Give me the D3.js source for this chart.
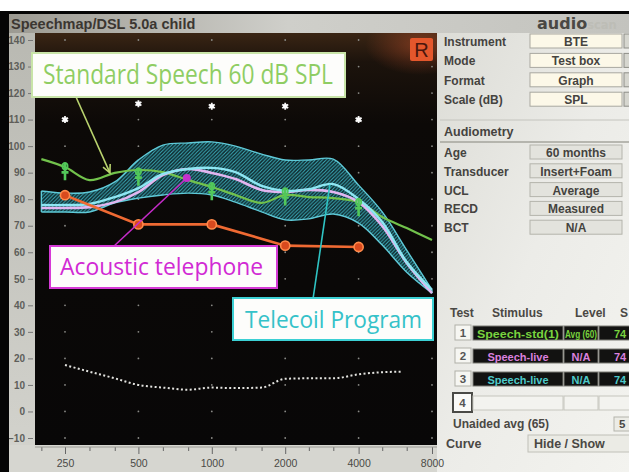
<!DOCTYPE html>
<html>
<head>
<meta charset="utf-8">
<script src="https://cdn.jsdelivr.net/npm/d3@7"></script>
<style>
  body { margin: 0; background: #fff; }
  svg { display: block; }
</style>
</head>
<body>
<svg id="chart" width="629" height="472"></svg>
<script>
// ---- Speechmap data (dB SPL) ----
const freqs = [200, 250, 315, 400, 500, 630, 800, 1000, 1250, 1600, 2000, 2500, 3150, 4000, 5000, 6300, 8000];
// Telecoil speech envelope (hatched band) and its long-term average
const telecoilUpper = [83.1, 82.3, 82.7, 86.5, 94.8, 100.4, 101.2, 101.6, 100, 97, 94.8, 94.8, 95.1, 85.3, 75.2, 60.8, 45.8];
const telecoilLower = [75.2, 75.2, 75.2, 78.6, 80.4, 81.6, 82.3, 81.6, 78.9, 75.2, 72.2, 72.6, 74.4, 71, 62.7, 52.5, 44.6];
const telecoilAvg   = [77.8, 77.8, 78.2, 80.8, 84.2, 89.5, 91.4, 91.8, 90.2, 85, 83.1, 83.8, 85.7, 80, 71.4, 56.3, 45.8];
// Acoustic telephone long-term average
const acousticAvg   = [76.7, 76.7, 77, 78.9, 82.7, 89.1, 91.4, 89.9, 87.6, 83.5, 82.7, 83.5, 82.7, 78.9, 69.9, 56, 44.6];
// Standard speech 60 dB SPL long-term average
const standardAvg   = [95.1, 92.1, 87.2, 89.9, 91, 90.2, 87.2, 84.6, 81.6, 78.6, 81.6, 80.8, 80.4, 78.9, 73.3, 69.1, 64.6];

// Audiometric frequencies
const audioFreqs = [250, 500, 1000, 2000, 4000];
const thresholds = [81.5, 70.5, 70.5, 62.5, 62];
const uclLevels  = [110, 116, 115, 115, 110];
const dslTargets = [90.5, 88.5, 83, 81, 77];

// Test box noise floor
const noiseFreqs = [250, 315, 400, 500, 630, 800, 1000, 1250, 1600, 2000, 2500, 3150, 4000, 5000, 6000];
const noiseFloor = [17.5, 15, 12.5, 10, 9, 8.2, 9, 8.8, 9, 12.3, 12.5, 12.5, 14, 14.8, 15];

// Axis ticks
const yTicks = [-10, 0, 10, 20, 30, 40, 50, 60, 70, 80, 90, 100, 110, 120, 130, 140];
const octaveTicks = [250, 500, 1000, 2000, 4000, 8000];
const thirdOctaveTicks = [200, 250, 315, 400, 500, 630, 800, 1000, 1250, 1600, 2000, 2500, 3150, 4000, 5000, 6300, 8000];

// Side panel contents
const setupRows = [["Instrument", "BTE"], ["Mode", "Test box"], ["Format", "Graph"], ["Scale (dB)", "SPL"]];
const audiometryRows = [["Age", "60 months"], ["Transducer", "Insert+Foam"], ["UCL", "Average"], ["RECD", "Measured"], ["BCT", "N/A"]];
const testNumbers = ["1", "2", "3"];
const testStimuli = ["Speech-std(1)", "Speech-live", "Speech-live"];
const testLevels  = ["Avg (60)", "N/A", "N/A"];
const testSII     = ["74", "74", "74"];

// ---- drawing ----
const svg = d3.select("#chart");
const W = 629, H = 472;
const plot = { x0: 35, x1: 437, y0: 33, y1: 445 };

const x = d3.scaleLog().domain([250, 8000]).range([65, 432]);
const y = d3.scaleLinear().domain([-10, 140]).range([438, 40]);

const defs = svg.append("defs");

const titleGrad = defs.append("linearGradient").attr("id", "titleGrad");
titleGrad.append("stop").attr("offset", "0%").attr("stop-color", "#9c9a92");
titleGrad.append("stop").attr("offset", "45%").attr("stop-color", "#cfcfca");
titleGrad.append("stop").attr("offset", "100%").attr("stop-color", "#c3c3be");

const plotGrad = defs.append("linearGradient").attr("id", "plotGrad").attr("x1", 0).attr("x2", 0).attr("y1", 0).attr("y2", 1);
plotGrad.append("stop").attr("offset", "0%").attr("stop-color", "#3a2514");
plotGrad.append("stop").attr("offset", "7%").attr("stop-color", "#1c130c");
plotGrad.append("stop").attr("offset", "22%").attr("stop-color", "#0c0907");
plotGrad.append("stop").attr("offset", "100%").attr("stop-color", "#080707");

const glow = defs.append("radialGradient").attr("id", "glow");
glow.append("stop").attr("offset", "0%").attr("stop-color", "#c0502a").attr("stop-opacity", 0.5);
glow.append("stop").attr("offset", "100%").attr("stop-color", "#c0502a").attr("stop-opacity", 0);

const panelGrad = defs.append("linearGradient").attr("id", "panelGrad").attr("x1", 0).attr("x2", 1).attr("y1", 0).attr("y2", 1);
panelGrad.append("stop").attr("offset", "0%").attr("stop-color", "#dcdcd6");
panelGrad.append("stop").attr("offset", "50%").attr("stop-color", "#ececE8");
panelGrad.append("stop").attr("offset", "100%").attr("stop-color", "#f3f3ef");

const axisGrad = defs.append("linearGradient").attr("id", "axisGrad").attr("x1", 0).attr("x2", 0).attr("y1", 0).attr("y2", 1);
axisGrad.append("stop").attr("offset", "0%").attr("stop-color", "#b9b9b2");
axisGrad.append("stop").attr("offset", "100%").attr("stop-color", "#d2d2cc");

const hatch = defs.append("pattern").attr("id", "hatch")
  .attr("patternUnits", "userSpaceOnUse").attr("width", 3.6).attr("height", 3.6);
hatch.append("rect").attr("width", 3.6).attr("height", 3.6).attr("fill", "#0e262a");
hatch.append("path").attr("d", "M-1,1 L1,-1 M0,3.6 L3.6,0 M2.6,4.6 L4.6,2.6")
  .attr("stroke", "#3aa9b6").attr("stroke-width", 1.1);

defs.append("clipPath").attr("id", "plotClip").append("rect")
  .attr("x", plot.x0).attr("y", plot.y0).attr("width", plot.x1 - plot.x0).attr("height", plot.y1 - plot.y0);

// Screen frame
svg.append("rect").attr("width", W).attr("height", H).attr("fill", "#fff");
svg.append("rect").attr("x", 0).attr("y", 11).attr("width", W).attr("height", H - 11).attr("fill", "#050505");
svg.append("rect").attr("x", 9).attr("y", 14).attr("width", W - 9).attr("height", 19).attr("fill", "url(#titleGrad)");
svg.append("rect").attr("x", 9).attr("y", plot.y0).attr("width", plot.x0 - 9).attr("height", plot.y1 - plot.y0).attr("fill", "url(#axisGrad)");
svg.append("rect").attr("x", 9).attr("y", plot.y1).attr("width", plot.x1 - 9).attr("height", H - plot.y1).attr("fill", "#d6d6d0");
svg.append("rect").attr("x", plot.x1).attr("y", plot.y0).attr("width", W - plot.x1).attr("height", H - plot.y0).attr("fill", "url(#panelGrad)");

// Title bar
svg.append("text").attr("x", 11).attr("y", 29)
  .attr("font-family", "Liberation Sans, Arial, sans-serif").attr("font-weight", "bold").attr("font-size", 14.5)
  .attr("fill", "#3b3631").text("Speechmap/DSL 5.0a child");
const logo = svg.append("text").attr("x", 537).attr("y", 29)
  .attr("font-family", "DejaVu Sans, sans-serif").attr("font-weight", "bold").attr("font-size", 16);
logo.append("tspan").attr("fill", "#4a4844").text("audio");
logo.append("tspan").attr("fill", "#bdbdb6").attr("font-size", 11.5).text("scan");

// Plot background
const plotLayer = svg.append("g").attr("clip-path", "url(#plotClip)");
plotLayer.append("rect").attr("x", plot.x0).attr("y", plot.y0).attr("width", plot.x1 - plot.x0).attr("height", plot.y1 - plot.y0).attr("fill", "url(#plotGrad)");
plotLayer.append("ellipse").attr("cx", 420).attr("cy", 45).attr("rx", 55).attr("ry", 30).attr("fill", "url(#glow)");

const g = svg.append("g");

// Dot grid at octave frequencies
const gridPts = d3.cross(octaveTicks, yTicks);
g.append("g").selectAll("circle").data(gridPts).join("circle")
  .attr("cx", d => x(d[0])).attr("cy", d => y(d[1])).attr("r", 0.9).attr("fill", "#8a8a86");

// Y axis
const yAxis = d3.axisLeft(y).tickValues(yTicks).tickSize(5).tickPadding(3).tickFormat(d3.format("d"));
const ya = svg.append("g").attr("transform", `translate(${plot.x0 - 2},0)`).call(yAxis);
ya.select(".domain").remove();
ya.selectAll("line").attr("stroke", "#777");
ya.selectAll("text").attr("font-family", "Liberation Sans, Arial, sans-serif").attr("font-size", 10).attr("font-weight", "bold").attr("fill", "#5e5e5a");

// X axis
const xAxis = d3.axisBottom(x).tickValues(thirdOctaveTicks).tickSize(4).tickPadding(9)
  .tickFormat(d => octaveTicks.includes(d) ? d : "");
const xa = svg.append("g").attr("transform", `translate(0,${plot.y1 + 2})`).call(xAxis);
xa.select(".domain").remove();
xa.append("line").attr("x1", plot.x0).attr("x2", plot.x1).attr("stroke", "#9a9a94");
xa.selectAll(".tick line").attr("stroke", "#666").attr("y2", d => octaveTicks.includes(d) ? 7 : 4);
xa.selectAll("text").attr("font-family", "Liberation Sans, Arial, sans-serif").attr("font-size", 10.5).attr("fill", "#4a4a46");

// Photo edge
svg.append("rect").attr("x", 0).attr("y", 11).attr("width", 9).attr("height", H - 11).attr("fill", "#050505");

// Noise floor (dotted)
const lineGen = d3.line().x(d => x(d[0])).y(d => y(d[1])).curve(d3.curveMonotoneX);
g.append("path").attr("d", lineGen(d3.zip(noiseFreqs, noiseFloor)))
  .attr("fill", "none").attr("stroke", "#e4e4e0").attr("stroke-width", 2).attr("stroke-dasharray", "2 2.4");

// Telecoil envelope band
const area = d3.area().x((d, i) => x(freqs[i])).y0((d, i) => y(telecoilLower[i])).y1(d => y(d)).curve(d3.curveCatmullRom.alpha(0.5));
g.append("path").attr("d", area(telecoilUpper)).attr("fill", "url(#hatch)");
const edge = d3.line().x((d, i) => x(freqs[i])).y(d => y(d)).curve(d3.curveCatmullRom.alpha(0.5));
[telecoilUpper, telecoilLower].forEach(arr => {
  g.append("path").attr("d", edge(arr)).attr("fill", "none").attr("stroke", "#5fcad8").attr("stroke-width", 1.4);
});
[0, freqs.length - 1].forEach(i => {
  g.append("line").attr("x1", x(freqs[i])).attr("x2", x(freqs[i]))
    .attr("y1", y(telecoilUpper[i])).attr("y2", y(telecoilLower[i]))
    .attr("stroke", "#5fcad8").attr("stroke-width", 1.4);
});

// Standard speech curve
g.append("path").attr("d", edge(standardAvg)).attr("fill", "none").attr("stroke", "#72c24c").attr("stroke-width", 2.2);

// Acoustic telephone and telecoil averages
g.append("path").attr("d", edge(acousticAvg)).attr("fill", "none").attr("stroke", "#e2b6f0").attr("stroke-width", 2.6);
g.append("path").attr("d", edge(telecoilAvg)).attr("fill", "none").attr("stroke", "#8ee6f2").attr("stroke-width", 2.4);

// DSL targets
const tg = g.append("g").selectAll("g").data(d3.zip(audioFreqs, dslTargets)).join("g")
  .attr("transform", d => `translate(${x(d[0])},${y(d[1])})`);
tg.append("path").attr("d", "M0,-9 V9 M-3.5,1 H3.5").attr("stroke", "#52c85a").attr("stroke-width", 2.6).attr("fill", "none");
tg.append("ellipse").attr("cy", -5).attr("rx", 2.6).attr("ry", 3.2).attr("fill", "none").attr("stroke", "#52c85a").attr("stroke-width", 1.8);

// Thresholds
const thr = d3.zip(audioFreqs, thresholds);
g.append("path").attr("d", d3.line().x(d => x(d[0])).y(d => y(d[1]))(thr))
  .attr("fill", "none").attr("stroke", "#ef6a33").attr("stroke-width", 2.6);
g.append("g").selectAll("circle").data(thr).join("circle")
  .attr("cx", d => x(d[0])).attr("cy", d => y(d[1])).attr("r", 4.6)
  .attr("fill", "#d94a1e").attr("stroke", "#ff8a4a").attr("stroke-width", 1.6);

// UCL markers
g.append("g").selectAll("path").data(d3.zip(audioFreqs, uclLevels)).join("path")
  .attr("transform", d => `translate(${x(d[0])},${y(d[1])})`)
  .attr("d", d3.symbol(d3.symbolAsterisk, 34))
  .attr("stroke", "#f4f4f4").attr("stroke-width", 1.8).attr("fill", "none");
g.append("g").selectAll("rect").data(d3.zip(audioFreqs, uclLevels)).join("rect")
  .attr("x", d => x(d[0]) - 2).attr("y", d => y(d[1]) - 2).attr("width", 4).attr("height", 4).attr("fill", "#fff");

// Ear indicator
svg.append("rect").attr("x", 410).attr("y", 38).attr("width", 23).attr("height", 23).attr("rx", 2).attr("fill", "#e4572c");
svg.append("text").attr("x", 421.5).attr("y", 57).attr("text-anchor", "middle")
  .attr("font-family", "Liberation Sans, Arial, sans-serif").attr("font-size", 20).attr("fill", "#4a160c").text("R");

// ---- annotations ----
const ann = svg.append("g");
function pointer(from, toFreq, toDb, color) {
  const tx = x(toFreq), ty = y(toDb);
  ann.append("line").attr("x1", from[0]).attr("y1", from[1]).attr("x2", tx).attr("y2", ty)
    .attr("stroke", color).attr("stroke-width", 1.6);
  return [tx, ty];
}
// Standard speech pointer with open arrowhead
const sEnd = pointer([76, 97], 382, 89.9, "#b9d36e");
{
  const ang = Math.atan2(sEnd[1] - 97, sEnd[0] - 76);
  const L = 9;
  const a1 = ang + Math.PI - 0.45, a2 = ang + Math.PI + 0.45;
  ann.append("path")
    .attr("d", `M${sEnd[0] + L * Math.cos(a1)},${sEnd[1] + L * Math.sin(a1)} L${sEnd[0]},${sEnd[1]} L${sEnd[0] + L * Math.cos(a2)},${sEnd[1] + L * Math.sin(a2)}`)
    .attr("fill", "none").attr("stroke", "#b9d36e").attr("stroke-width", 1.6);
}
const aEnd = pointer([113, 247], 790, 88, "#c42bc8");
ann.append("circle").attr("cx", aEnd[0]).attr("cy", aEnd[1]).attr("r", 4).attr("fill", "#c530cc");
pointer([313, 299], 3050, 85.5, "#2fc4c4");

function noteBox(bx, by, bw, bh, stroke, txt, tx, ty, size, tlen, color) {
  ann.append("rect").attr("x", bx).attr("y", by).attr("width", bw).attr("height", bh)
    .attr("fill", "#fdfdfb").attr("stroke", stroke).attr("stroke-width", 2);
  ann.append("text").attr("x", tx).attr("y", ty)
    .attr("font-family", "Open Sans, Lato, sans-serif").attr("font-size", size)
    .attr("fill", color).attr("textLength", tlen).attr("lengthAdjust", "spacingAndGlyphs").text(txt);
}
noteBox(32, 53, 313, 44, "#c8e4a8", "Standard Speech 60 dB SPL", 43, 84, 27, 290, "#8fcd63");
noteBox(50, 246, 227, 42, "#d63ad6", "Acoustic telephone", 60, 275, 24, 203, "#d12ad4");
noteBox(233, 298, 200, 42, "#3cd0d4", "Telecoil Program", 245, 328, 24, 177, "#35c2c9");

// ---- side panel ----
const panel = svg.append("g").attr("font-family", "Liberation Sans, Arial, sans-serif");
const labFont = 12;
setupRows.forEach((r, i) => {
  const by = 46 + i * 19.4;
  panel.append("text").attr("x", 444).attr("y", by).attr("font-size", labFont).attr("font-weight", "bold").attr("fill", "#45433f").text(r[0]);
  panel.append("rect").attr("x", 530).attr("y", by - 12).attr("width", 92).attr("height", 14)
    .attr("fill", "#fcf8e8").attr("stroke", "#a9a8a0");
  panel.append("text").attr("x", 576).attr("y", by).attr("text-anchor", "middle").attr("font-size", labFont).attr("font-weight", "bold").attr("fill", "#45433f").text(r[1]);
  panel.append("rect").attr("x", 624).attr("y", by - 12).attr("width", 10).attr("height", 14)
    .attr("fill", "#d6d6cf").attr("stroke", "#8e8e88");
});
panel.append("line").attr("x1", 440).attr("x2", W).attr("y1", 120).attr("y2", 120).attr("stroke", "#c4c4be");
panel.append("text").attr("x", 444).attr("y", 136).attr("font-size", 12.5).attr("font-weight", "bold").attr("fill", "#45433f").text("Audiometry");
panel.append("line").attr("x1", 440).attr("x2", W).attr("y1", 142).attr("y2", 142).attr("stroke", "#a4a49c").attr("stroke-width", 1.5);
audiometryRows.forEach((r, i) => {
  const by = 157 + i * 18.8;
  panel.append("text").attr("x", 444).attr("y", by).attr("font-size", labFont).attr("font-weight", "bold").attr("fill", "#45433f").text(r[0]);
  panel.append("rect").attr("x", 530).attr("y", by - 12).attr("width", 92).attr("height", 14)
    .attr("fill", "#e3e3dd").attr("stroke", "#b4b4ac");
  panel.append("text").attr("x", 576).attr("y", by).attr("text-anchor", "middle").attr("font-size", labFont).attr("font-weight", "bold").attr("fill", "#45433f").text(r[1]);
});

// Test table
const hdr = [["Test", 450], ["Stimulus", 492], ["Level", 575], ["S", 620]];
hdr.forEach(h => panel.append("text").attr("x", h[1]).attr("y", 317).attr("font-size", 12).attr("font-weight", "bold").attr("fill", "#4a4844").text(h[0]));
const rowColors = ["#79d33f", "#da80de", "#4dc9c9"];
const rowY = [325, 348, 371];
testNumbers.forEach((n, i) => {
  const ry = rowY[i];
  panel.append("rect").attr("x", 455).attr("y", ry).attr("width", 16).attr("height", 15).attr("fill", "#f6f6f2").attr("stroke", "#b0b0a8");
  panel.append("text").attr("x", 463).attr("y", ry + 12).attr("text-anchor", "middle").attr("font-size", 11.5).attr("font-weight", "bold").attr("fill", "#555").text(n);
  const cells = [[473, 90, testStimuli[i]], [564, 34, testLevels[i]], [599, 32, testSII[i]]];
  cells.forEach((c, j) => {
    panel.append("rect").attr("x", c[0]).attr("y", ry + 1).attr("width", c[1]).attr("height", 14).attr("fill", "#121211").attr("stroke", "#7a7a74");
    const t = panel.append("text").attr("y", ry + 12.5).attr("font-weight", "bold")
      .attr("font-size", 11)
      .attr("fill", rowColors[i]).text(c[2]);
    if (j === 2) {
      t.attr("x", 614);
    } else {
      t.attr("x", c[0] + c[1] / 2).attr("text-anchor", "middle");
      if (c[2] === "Speech-std(1)") t.attr("textLength", 82).attr("lengthAdjust", "spacingAndGlyphs");
      if (c[2] === "Avg (60)") t.attr("textLength", 32).attr("lengthAdjust", "spacingAndGlyphs");
    }
  });
});
panel.append("rect").attr("x", 453).attr("y", 393).attr("width", 19).attr("height", 19).attr("fill", "#fafaf8").attr("stroke", "#4a4a46").attr("stroke-width", 2);
panel.append("text").attr("x", 462.5).attr("y", 407).attr("text-anchor", "middle").attr("font-size", 11.5).attr("font-weight", "bold").attr("fill", "#555").text("4");
[[473, 90], [564, 34], [599, 32]].forEach(c => {
  panel.append("rect").attr("x", c[0]).attr("y", 396).attr("width", c[1]).attr("height", 14).attr("fill", "#f3f3ef").attr("stroke", "#c6c6be");
});
panel.append("text").attr("x", 453).attr("y", 428).attr("font-size", 12).attr("font-weight", "bold").attr("fill", "#4a4844").text("Unaided avg (65)");
panel.append("rect").attr("x", 614).attr("y", 417).attr("width", 20).attr("height", 14).attr("fill", "#ececE6").attr("stroke", "#b4b4ac");
panel.append("text").attr("x", 619).attr("y", 428).attr("font-size", 11.5).attr("font-weight", "bold").attr("fill", "#4a4844").text("5");
panel.append("rect").attr("x", 528).attr("y", 435).attr("width", 110).attr("height", 17).attr("fill", "#ebebe5").attr("stroke", "#c0c0b8");
panel.append("text").attr("x", 446).attr("y", 448).attr("font-size", 12.5).attr("font-weight", "bold").attr("fill", "#4a4844").text("Curve");
panel.append("text").attr("x", 534).attr("y", 448).attr("font-size", 12.5).attr("font-weight", "bold").attr("fill", "#4a4844").text("Hide / Show");
</script>
</body>
</html>
